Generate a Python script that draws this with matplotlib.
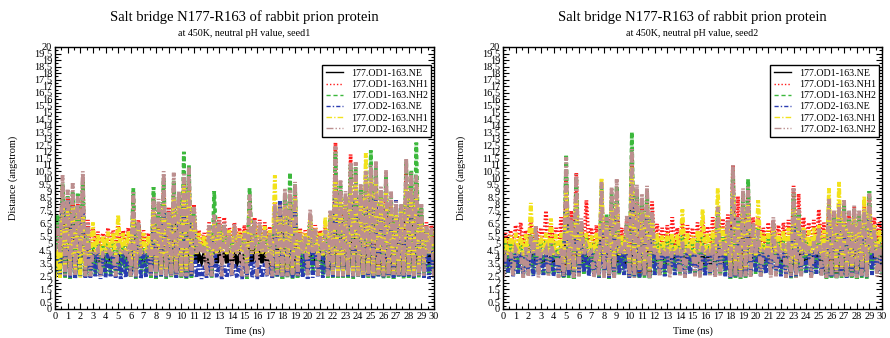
import numpy as np
import matplotlib
matplotlib.use("Agg")
import matplotlib.pyplot as plt
from matplotlib.lines import Line2D
from matplotlib.ticker import MultipleLocator, FuncFormatter

# Distance traces, sampled every 0.2 ns.  Each trace is stored as its troughs
# (t = 0, 0.4, ..., 30 ns) and its peaks (t = 0.2, 0.6, ..., 29.8 ns), in angstrom.

# ---------------- seed1 ----------------
seed1_od1_ne_low = [
    3.5, 3.5, 2.5, 2.6, 2.5, 3.4, 2.6, 3.5, 3.6, 3.5,
    3.6, 3.5, 3.4, 3.5, 3.6, 2.5, 2.6, 3.5, 3.6, 2.5,
    2.6, 2.5, 2.6, 2.5, 2.6, 2.5, 2.6, 2.5, 3.5, 3.6,
    3.5, 2.6, 3.5, 3.6, 3.5, 3.6, 3.5, 3.4, 2.5, 3.5,
    3.6, 3.5, 3.6, 2.5, 2.6, 2.5, 2.6, 2.5, 2.6, 3.5,
    3.6, 3.5, 3.6, 3.5, 2.6, 2.5, 2.6, 2.5, 2.6, 2.5,
    2.6, 2.5, 2.6, 2.5, 2.6, 2.5, 2.6, 2.5, 2.6, 2.5,
    2.6, 2.5, 2.6, 3.5, 3.6, 3.5]
seed1_od1_ne_high = [
    4.0, 7.0, 7.0, 8.3, 6.5, 7.0, 5.0, 4.2, 4.3, 4.1,
    4.2, 4.3, 4.2, 4.1, 4.3, 6.5, 6.5, 4.2, 4.3, 6.6,
    6.0, 7.0, 5.5, 7.0, 6.0, 8.0, 7.0, 5.5, 4.1, 4.2,
    4.3, 5.5, 4.2, 4.3, 4.2, 4.3, 4.1, 4.2, 6.0, 4.8,
    4.4, 4.3, 4.2, 6.0, 6.5, 7.0, 7.0, 7.0, 4.3, 4.2,
    5.5, 4.3, 4.2, 4.4, 5.5, 8.0, 7.0, 6.5, 8.0, 8.0,
    6.5, 7.5, 8.0, 8.0, 6.5, 7.5, 6.5, 6.0, 6.0, 8.0,
    7.5, 8.0, 6.0, 4.3, 4.2]

seed1_od1_nh1_low = [
    4.6, 4.6, 2.8, 2.7, 2.9, 4.5, 2.8, 4.6, 4.8, 4.6,
    4.7, 4.6, 4.8, 4.6, 4.7, 3.0, 2.9, 4.6, 4.8, 3.0,
    2.8, 2.7, 2.9, 2.7, 2.8, 2.7, 2.9, 3.0, 4.6, 4.7,
    4.6, 3.0, 4.6, 4.8, 4.6, 4.7, 4.6, 4.8, 3.0, 4.6,
    4.7, 4.6, 4.8, 3.0, 2.8, 2.7, 2.9, 2.7, 2.8, 4.6,
    4.7, 4.6, 4.8, 4.6, 3.0, 2.7, 2.8, 2.6, 2.8, 2.7,
    2.6, 2.8, 2.7, 2.6, 2.8, 2.7, 2.6, 2.8, 2.7, 2.6,
    2.8, 2.7, 2.9, 4.6, 4.7, 4.6]
seed1_od1_nh1_high = [
    6.2, 9.4, 8.5, 8.8, 8.0, 9.7, 6.8, 6.2, 5.9, 5.8,
    6.2, 6.0, 6.4, 6.0, 6.2, 8.4, 6.8, 6.0, 5.8, 8.5,
    8.0, 9.7, 7.8, 9.6, 8.6, 10.0, 10.2, 8.0, 6.0, 5.8,
    6.6, 7.0, 7.0, 7.0, 6.2, 6.6, 6.2, 6.4, 8.4, 7.0,
    6.8, 6.6, 6.3, 8.2, 8.2, 8.5, 8.4, 9.0, 6.2, 6.0,
    7.2, 6.4, 6.0, 6.4, 7.2, 12.7, 9.0, 8.4, 11.8, 10.4,
    8.8, 10.0, 10.5, 10.5, 8.8, 9.8, 8.4, 7.6, 7.8, 10.8,
    9.8, 10.0, 7.4, 6.6, 6.4]

seed1_od1_nh2_low = [
    2.6, 2.5, 2.4, 2.3, 2.4, 2.5, 2.4, 2.6, 2.7, 2.6,
    2.7, 2.6, 2.7, 2.6, 2.7, 2.4, 2.3, 2.6, 2.7, 2.4,
    2.3, 2.4, 2.3, 2.4, 2.3, 2.4, 2.3, 2.4, 4.5, 4.6,
    4.5, 2.4, 4.6, 4.5, 4.6, 4.5, 4.6, 4.5, 2.3, 4.6,
    4.5, 4.6, 4.5, 2.3, 2.4, 2.3, 2.4, 2.3, 2.4, 2.6,
    2.7, 2.6, 2.7, 2.6, 2.4, 2.3, 2.4, 2.3, 2.4, 2.3,
    2.4, 2.3, 2.4, 2.3, 2.4, 2.3, 2.4, 2.3, 2.4, 2.3,
    2.4, 2.3, 2.4, 2.6, 2.7, 2.6]
seed1_od1_nh2_high = [
    7.2, 9.6, 8.6, 9.0, 8.8, 9.8, 6.0, 5.0, 5.0, 4.8,
    5.0, 5.0, 5.2, 5.0, 5.0, 9.2, 6.2, 5.0, 4.8, 9.3,
    8.0, 10.0, 7.4, 9.8, 8.8, 12.0, 11.0, 7.6, 5.0, 4.8,
    5.6, 9.0, 6.4, 6.4, 5.4, 5.8, 5.4, 5.6, 9.2, 6.4,
    6.0, 5.8, 5.6, 7.6, 7.8, 8.8, 10.4, 9.6, 5.6, 5.4,
    7.2, 5.8, 5.4, 6.0, 7.0, 12.0, 9.4, 8.6, 11.0, 10.8,
    9.2, 10.4, 12.1, 10.8, 9.0, 10.2, 8.6, 7.8, 7.9, 11.3,
    10.6, 12.7, 7.8, 6.0, 5.8]

seed1_od2_ne_low = [
    2.5, 2.4, 2.5, 2.4, 2.3, 2.5, 2.4, 2.4, 2.5, 2.3,
    2.4, 2.5, 2.4, 2.3, 2.4, 2.5, 2.4, 2.3, 2.4, 2.5,
    2.4, 2.5, 2.4, 2.5, 2.4, 2.5, 2.4, 2.5, 2.4, 2.3,
    2.4, 2.5, 2.4, 2.3, 2.4, 2.5, 2.4, 2.3, 2.5, 2.4,
    2.3, 2.4, 2.5, 2.4, 2.5, 2.4, 2.5, 2.4, 2.5, 2.4,
    2.3, 2.4, 2.5, 2.4, 2.5, 2.4, 2.5, 2.4, 2.5, 2.4,
    2.5, 2.4, 2.5, 2.4, 2.5, 2.4, 2.5, 2.4, 2.5, 2.4,
    2.5, 2.4, 2.5, 2.4, 2.3, 2.4]
seed1_od2_ne_high = [
    4.2, 8.2, 8.3, 7.0, 6.5, 7.5, 5.0, 4.3, 4.4, 4.3,
    4.4, 4.3, 4.2, 4.4, 4.3, 6.5, 5.0, 4.4, 4.3, 6.5,
    6.0, 7.5, 5.5, 7.8, 6.5, 8.0, 7.5, 5.8, 3.4, 3.3,
    3.5, 5.5, 3.4, 3.3, 3.5, 3.4, 3.3, 3.5, 6.0, 3.6,
    3.4, 3.5, 3.3, 6.0, 8.3, 7.0, 7.0, 7.5, 4.4, 4.3,
    5.5, 4.5, 4.3, 4.4, 5.8, 9.0, 7.5, 7.0, 8.5, 8.5,
    7.0, 8.0, 8.8, 8.6, 7.0, 8.0, 7.0, 8.3, 6.5, 8.5,
    8.0, 8.5, 6.0, 4.6, 4.4]

seed1_od2_nh1_low = [
    2.4, 2.4, 3.0, 3.2, 2.8, 2.4, 3.0, 4.0, 4.2, 4.1,
    4.3, 4.2, 4.0, 4.2, 4.3, 3.5, 3.0, 4.2, 4.3, 4.0,
    3.0, 2.8, 3.0, 2.8, 3.0, 2.8, 3.0, 3.2, 4.2, 4.3,
    4.1, 3.5, 4.2, 4.3, 4.2, 4.0, 4.2, 4.3, 3.5, 4.2,
    4.1, 4.2, 4.0, 3.5, 3.0, 2.8, 3.0, 2.8, 3.2, 4.2,
    4.0, 4.3, 4.2, 4.1, 3.5, 2.8, 2.7, 2.8, 2.6, 2.8,
    2.7, 2.6, 2.8, 2.7, 2.6, 2.8, 2.7, 2.8, 2.6, 2.8,
    2.7, 2.6, 2.8, 3.5, 4.2, 4.0]
seed1_od2_nh1_high = [
    4.6, 8.0, 7.5, 8.0, 7.6, 7.0, 6.2, 6.6, 5.7, 5.6,
    5.9, 5.8, 7.2, 5.8, 5.9, 7.0, 6.4, 5.8, 5.6, 7.5,
    7.0, 8.0, 7.2, 8.5, 8.0, 9.5, 9.0, 7.0, 5.8, 5.6,
    6.2, 6.6, 6.4, 6.2, 6.0, 6.2, 5.9, 6.0, 7.5, 6.4,
    6.4, 6.3, 6.0, 10.2, 7.0, 8.0, 8.0, 8.5, 6.0, 5.8,
    7.0, 6.2, 5.8, 7.0, 7.2, 10.0, 8.5, 8.0, 9.5, 10.0,
    8.5, 11.9, 10.0, 10.0, 8.5, 9.0, 8.0, 7.5, 7.5, 9.5,
    9.0, 9.5, 7.0, 6.3, 6.0]

seed1_od2_nh2_low = [
    4.4, 4.3, 2.5, 2.5, 2.6, 4.2, 2.5, 2.5, 4.3, 2.5,
    4.3, 4.2, 2.5, 4.3, 4.2, 2.5, 2.5, 4.2, 4.3, 2.5,
    2.5, 2.6, 2.5, 2.5, 2.6, 2.5, 2.5, 2.6, 4.2, 4.3,
    2.5, 2.5, 4.2, 2.5, 4.3, 2.5, 4.2, 2.5, 2.5, 4.2,
    2.5, 4.3, 2.5, 2.5, 2.6, 2.5, 2.5, 2.6, 2.5, 4.2,
    2.5, 4.3, 2.5, 4.2, 2.5, 2.6, 2.5, 2.5, 2.6, 2.5,
    2.5, 2.6, 2.5, 2.5, 2.6, 2.5, 2.5, 2.6, 2.5, 2.5,
    2.6, 2.5, 2.5, 2.5, 4.2, 2.5]
seed1_od2_nh2_high = [
    6.5, 10.2, 9.1, 9.6, 8.6, 10.5, 6.6, 4.4, 4.6, 4.3,
    4.7, 4.4, 5.0, 4.5, 4.6, 9.0, 6.6, 4.3, 4.6, 8.6,
    8.4, 10.5, 7.6, 10.4, 9.0, 10.4, 10.8, 7.8, 5.2, 4.8,
    6.4, 7.2, 6.8, 6.6, 5.8, 6.5, 5.6, 5.8, 8.8, 6.8,
    6.6, 6.0, 5.8, 8.0, 8.0, 9.2, 9.1, 9.7, 5.8, 5.6,
    7.6, 6.2, 5.6, 6.0, 7.5, 12.4, 9.8, 9.0, 11.2, 11.2,
    9.5, 10.5, 11.0, 11.3, 9.4, 10.6, 9.0, 8.2, 8.0, 11.5,
    10.4, 10.2, 8.0, 6.4, 6.2]

# ---------------- seed2 ----------------
seed2_od1_ne_low = [
    3.5, 3.4, 3.5, 3.6, 3.5, 3.4, 3.5, 3.6, 3.5, 3.4,
    3.5, 3.6, 2.5, 2.6, 2.5, 3.0, 3.5, 3.6, 3.5, 2.6,
    3.4, 2.5, 2.6, 3.5, 3.6, 2.5, 2.6, 2.5, 2.6, 2.5,
    3.5, 3.6, 3.4, 3.5, 3.6, 3.5, 3.4, 3.5, 3.6, 3.5,
    3.4, 3.5, 3.6, 3.5, 3.4, 2.5, 2.6, 2.5, 2.6, 3.5,
    3.6, 3.5, 3.4, 3.5, 3.6, 3.5, 3.4, 2.5, 2.6, 3.5,
    3.6, 3.5, 3.4, 3.5, 2.5, 2.6, 2.5, 2.6, 2.5, 2.6,
    2.5, 2.6, 2.5, 3.5, 3.6, 3.5]
seed2_od1_ne_high = [
    4.0, 4.1, 4.0, 3.9, 4.1, 4.2, 4.6, 4.0, 4.1, 4.0,
    4.1, 4.2, 8.0, 5.0, 7.0, 4.8, 4.2, 4.0, 4.1, 6.5,
    5.0, 6.5, 6.8, 4.0, 4.8, 8.5, 6.5, 6.0, 6.5, 5.5,
    4.1, 4.0, 4.2, 4.1, 4.0, 4.2, 4.1, 4.0, 4.2, 4.1,
    4.0, 4.2, 5.5, 4.1, 4.6, 7.5, 5.0, 6.4, 6.5, 4.6,
    4.4, 4.0, 4.2, 4.8, 4.1, 4.0, 4.2, 6.4, 5.5, 4.4,
    4.1, 4.2, 4.4, 4.0, 6.0, 5.2, 5.5, 5.6, 5.2, 5.4,
    5.0, 5.2, 6.0, 4.4, 4.1]

seed2_od1_nh1_low = [
    4.7, 4.8, 4.6, 4.7, 4.8, 4.6, 4.7, 4.8, 4.6, 4.7,
    4.8, 4.6, 2.8, 2.9, 2.8, 3.2, 4.7, 4.8, 4.6, 2.9,
    4.6, 2.8, 2.9, 4.7, 4.6, 2.8, 2.9, 2.8, 2.9, 2.8,
    4.7, 4.8, 4.6, 4.7, 4.8, 4.6, 4.7, 4.8, 4.6, 4.7,
    4.8, 4.6, 4.7, 4.8, 4.6, 2.8, 2.9, 2.8, 2.9, 4.6,
    4.7, 4.8, 4.6, 4.7, 4.8, 4.6, 4.7, 2.8, 2.9, 4.6,
    4.7, 4.8, 4.6, 4.7, 2.8, 2.9, 2.8, 2.9, 2.8, 2.9,
    2.8, 2.9, 2.8, 4.7, 4.6, 4.7]
seed2_od1_nh1_high = [
    5.8, 6.0, 6.4, 6.6, 6.0, 6.9, 6.2, 6.2, 7.5, 6.4,
    6.2, 7.0, 10.0, 7.5, 10.4, 6.5, 8.3, 6.2, 6.4, 8.5,
    6.8, 8.6, 9.0, 6.2, 6.8, 11.5, 8.8, 8.4, 8.8, 8.2,
    6.5, 6.2, 6.4, 7.0, 6.2, 6.6, 6.4, 6.2, 6.6, 6.8,
    6.3, 7.0, 7.5, 6.9, 7.2, 11.0, 8.6, 8.6, 9.0, 7.0,
    7.0, 6.2, 6.6, 6.8, 6.4, 6.6, 6.8, 9.4, 8.8, 7.0,
    6.6, 6.8, 7.6, 6.6, 8.0, 7.5, 8.0, 8.0, 7.4, 7.8,
    7.2, 8.0, 8.4, 7.0, 6.6]

seed2_od1_nh2_low = [
    2.6, 2.7, 2.6, 2.7, 2.6, 2.7, 2.6, 2.7, 2.6, 2.7,
    2.6, 2.7, 2.3, 2.4, 2.3, 2.5, 2.6, 2.7, 2.6, 2.4,
    2.6, 2.3, 2.4, 2.6, 2.7, 2.3, 2.4, 2.3, 2.4, 2.3,
    2.6, 2.7, 2.6, 2.7, 2.6, 2.7, 2.6, 2.7, 2.6, 2.7,
    2.6, 2.7, 2.6, 2.7, 2.6, 2.3, 2.4, 2.3, 2.4, 2.6,
    2.7, 2.6, 2.7, 2.6, 2.7, 2.6, 2.7, 2.3, 2.4, 2.6,
    2.7, 2.6, 2.7, 2.6, 2.3, 2.4, 2.3, 2.4, 2.3, 2.4,
    2.3, 2.4, 2.3, 2.6, 2.7, 2.6]
seed2_od1_nh2_high = [
    5.0, 5.2, 5.0, 5.2, 5.0, 6.0, 5.6, 5.0, 5.2, 5.4,
    5.0, 5.2, 11.8, 6.8, 10.0, 6.2, 5.4, 5.0, 5.2, 9.4,
    7.2, 8.8, 9.4, 5.2, 6.6, 13.5, 9.2, 8.4, 9.0, 7.2,
    5.2, 5.0, 5.2, 5.4, 5.0, 5.6, 5.2, 5.0, 5.4, 5.6,
    5.0, 5.4, 7.6, 5.6, 6.6, 10.6, 6.8, 8.8, 9.9, 6.4,
    6.2, 5.0, 5.4, 6.6, 5.2, 5.4, 5.6, 8.8, 7.4, 5.8,
    5.4, 5.6, 6.0, 5.4, 8.0, 7.0, 7.8, 8.0, 7.0, 7.6,
    7.2, 7.4, 9.0, 6.0, 5.4]

seed2_od2_ne_low = [
    2.6, 2.8, 2.5, 2.7, 2.6, 2.8, 2.5, 2.7, 2.6, 2.8,
    2.5, 2.7, 2.4, 2.5, 2.4, 2.6, 2.8, 2.5, 2.7, 2.4,
    2.6, 2.4, 2.5, 2.7, 2.6, 2.4, 2.5, 2.4, 2.5, 2.4,
    2.6, 2.8, 2.5, 2.7, 2.6, 2.8, 2.5, 2.7, 2.6, 2.8,
    2.5, 2.7, 2.6, 2.8, 2.5, 2.4, 2.5, 2.4, 2.5, 2.6,
    2.8, 2.5, 2.7, 2.6, 2.8, 2.5, 2.7, 2.4, 2.5, 2.6,
    2.8, 2.5, 2.7, 2.6, 2.4, 2.5, 2.4, 2.5, 2.4, 2.5,
    2.4, 2.5, 2.4, 2.6, 2.8, 2.5]
seed2_od2_ne_high = [
    4.3, 4.4, 4.2, 4.3, 4.4, 4.6, 4.4, 4.3, 4.2, 4.4,
    4.3, 4.4, 8.5, 5.5, 7.5, 5.0, 4.4, 4.3, 4.2, 6.5,
    5.0, 6.8, 7.0, 4.3, 5.0, 9.0, 7.0, 6.5, 7.0, 5.8,
    4.4, 4.3, 4.2, 4.4, 4.3, 4.6, 4.4, 4.3, 4.4, 4.5,
    4.3, 4.4, 5.8, 4.4, 5.0, 8.0, 5.5, 7.0, 7.0, 5.0,
    4.6, 4.3, 4.4, 5.0, 4.3, 4.4, 4.5, 7.0, 6.0, 4.6,
    4.4, 4.5, 4.6, 4.3, 6.5, 5.5, 6.0, 6.2, 5.5, 6.0,
    5.6, 5.8, 6.8, 4.6, 4.4]

seed2_od2_nh1_low = [
    4.2, 4.1, 4.3, 4.2, 4.1, 4.2, 4.3, 4.1, 4.2, 4.3,
    4.1, 4.2, 3.0, 3.2, 3.0, 3.6, 4.2, 4.1, 4.3, 3.2,
    4.2, 3.0, 3.2, 4.1, 4.2, 3.0, 3.2, 3.0, 3.2, 3.0,
    4.2, 4.1, 4.3, 4.2, 4.1, 4.2, 4.3, 4.1, 4.2, 4.3,
    4.1, 4.2, 4.3, 4.2, 4.1, 3.0, 3.2, 3.0, 3.2, 4.2,
    4.1, 4.3, 4.2, 4.1, 4.2, 4.3, 4.1, 3.0, 3.2, 4.2,
    4.1, 4.3, 4.2, 4.1, 3.0, 3.2, 3.0, 3.2, 3.0, 3.2,
    3.0, 3.2, 3.0, 4.2, 4.1, 4.3]
seed2_od2_nh1_high = [
    5.4, 5.6, 5.8, 5.6, 5.7, 8.1, 5.8, 5.6, 5.8, 6.9,
    5.7, 5.8, 9.0, 6.0, 8.5, 6.0, 5.8, 5.6, 5.8, 10.0,
    6.4, 7.5, 8.0, 5.6, 6.2, 11.0, 8.0, 7.4, 8.0, 6.8,
    5.8, 5.6, 5.8, 5.8, 5.7, 7.6, 5.8, 5.6, 6.0, 7.6,
    5.8, 6.0, 9.2, 6.2, 6.4, 9.0, 6.6, 7.8, 8.0, 6.2,
    8.3, 5.8, 6.0, 6.2, 5.8, 6.0, 6.2, 7.8, 7.0, 6.2,
    6.0, 6.2, 6.4, 6.0, 9.2, 6.6, 9.7, 7.2, 6.6, 7.0,
    6.6, 8.6, 7.6, 6.4, 6.0]

seed2_od2_nh2_low = [
    2.4, 4.2, 2.5, 4.2, 2.4, 2.5, 4.2, 2.4, 4.2, 2.5,
    4.2, 2.4, 2.5, 3.0, 2.4, 2.5, 4.2, 4.2, 2.4, 2.5,
    2.4, 2.5, 2.4, 4.2, 4.2, 2.5, 2.4, 3.0, 2.5, 2.4,
    4.2, 2.5, 4.2, 2.4, 4.2, 2.5, 2.4, 4.2, 2.5, 2.4,
    4.2, 2.5, 2.4, 2.5, 4.2, 2.4, 2.5, 2.4, 2.5, 2.4,
    4.2, 2.5, 4.2, 2.4, 2.5, 4.2, 2.4, 2.5, 2.4, 2.5,
    4.2, 2.4, 4.2, 2.5, 2.4, 2.5, 2.4, 2.5, 2.4, 2.5,
    2.4, 2.5, 2.4, 4.2, 2.5, 2.4]
seed2_od2_nh2_high = [
    4.3, 4.4, 4.6, 4.2, 4.7, 5.6, 6.4, 4.4, 4.6, 5.0,
    4.3, 4.6, 11.6, 7.0, 10.3, 6.9, 4.8, 4.4, 4.6, 9.7,
    7.0, 9.3, 9.9, 4.6, 7.1, 12.2, 9.5, 8.8, 9.4, 7.6,
    4.6, 4.4, 4.8, 4.6, 4.4, 5.2, 4.6, 4.4, 5.0, 4.8,
    4.4, 5.0, 7.8, 5.2, 6.8, 11.0, 7.0, 9.2, 9.4, 6.6,
    6.0, 4.4, 5.0, 7.0, 4.6, 5.0, 5.2, 9.2, 7.6, 6.0,
    4.8, 5.2, 6.2, 5.0, 8.4, 7.5, 8.0, 8.3, 7.5, 7.9,
    7.5, 7.6, 8.8, 6.2, 5.0]

series_labels = ["177.OD1-163.NE", "177.OD1-163.NH1", "177.OD1-163.NH2",
                 "177.OD2-163.NE", "177.OD2-163.NH1", "177.OD2-163.NH2"]
series_colors = ["#000000", "#ff1a1a", "#3cb83c", "#2a3cb0", "#f2e21c", "#bc8f8f"]
series_styles = ["-", (0, (1, 1.5)), (0, (3, 2)), (0, (3, 1.5, 1, 1.5)),
                 (0, (4, 1.5, 1, 1.5)), (0, (5, 1.5, 1, 1.5, 1, 1.5))]

seed_names = ["seed1", "seed2"]
seed1_lows = [seed1_od1_ne_low, seed1_od1_nh1_low, seed1_od1_nh2_low,
              seed1_od2_ne_low, seed1_od2_nh1_low, seed1_od2_nh2_low]
seed1_highs = [seed1_od1_ne_high, seed1_od1_nh1_high, seed1_od1_nh2_high,
               seed1_od2_ne_high, seed1_od2_nh1_high, seed1_od2_nh2_high]
seed2_lows = [seed2_od1_ne_low, seed2_od1_nh1_low, seed2_od1_nh2_low,
              seed2_od2_ne_low, seed2_od2_nh1_low, seed2_od2_nh2_low]
seed2_highs = [seed2_od1_ne_high, seed2_od1_nh1_high, seed2_od1_nh2_high,
               seed2_od2_ne_high, seed2_od2_nh1_high, seed2_od2_nh2_high]

time_ns = np.linspace(0.0, 30.0, 151)


def trace(low, high):
    """Merge trough and peak samples back into time order."""
    y = np.empty(len(low) + len(high))
    y[0::2] = low
    y[1::2] = high
    return y


plt.rcParams["font.family"] = ["Liberation Serif", "DejaVu Serif"]
plt.rcParams["lines.scale_dashes"] = False

W, H = 890, 338
fig = plt.figure(figsize=(W / 100, H / 100), dpi=100)

panel_left_px = [55, 503]
ax_w_px, ax_top_px, ax_bot_px = 379, 47, 309

for left_px, seed, lows, highs in zip(panel_left_px, seed_names,
                                      [seed1_lows, seed2_lows],
                                      [seed1_highs, seed2_highs]):
    ax = fig.add_axes([left_px / W, 1 - ax_bot_px / H, ax_w_px / W,
                       (ax_bot_px - ax_top_px) / H])
    for low, high, col, ls in zip(lows, highs, series_colors, series_styles):
        ax.plot(time_ns, trace(low, high), color=col, linestyle=ls,
                linewidth=2.7, dash_capstyle="butt", solid_joinstyle="miter",
                dash_joinstyle="miter")

    ax.set_xlim(0, 30)
    ax.set_ylim(0, 20)
    ax.xaxis.set_major_locator(MultipleLocator(1))
    ax.xaxis.set_minor_locator(MultipleLocator(0.5))
    ax.yaxis.set_major_locator(MultipleLocator(0.5))
    ax.yaxis.set_minor_locator(MultipleLocator(0.25))
    ax.yaxis.set_major_formatter(FuncFormatter(lambda v, p: f"{v:g}"))
    ax.tick_params(which="both", direction="in", top=True, right=True,
                   labelsize=7.5, pad=2, width=0.8)
    ax.tick_params(which="major", length=4)
    ax.tick_params(which="minor", length=2.5)
    for sp in ax.spines.values():
        sp.set_linewidth(1.0)

    ax.set_xlabel("Time (ns)", fontsize=7.5)
    ax.set_ylabel("Distance (angstrom)", fontsize=7.5)
    ax.xaxis.set_label_coords(0.5, -0.066)
    ax.yaxis.set_label_coords(-0.097, 0.5)

    cx = (left_px + ax_w_px / 2) / W
    fig.text(cx, 1 - 17 / H, "Salt bridge N177-R163 of rabbit prion protein",
             ha="center", va="center", fontsize=10.5)
    fig.text(cx, 1 - 34 / H, f"at 450K, neutral pH value, {seed}",
             ha="center", va="center", fontsize=7.2)

    handles = [Line2D([], [], color=c, linestyle=s, linewidth=1.0)
               for c, s in zip(series_colors, series_styles)]
    leg = ax.legend(handles, series_labels, loc="upper right",
                    bbox_to_anchor=(0.993, 0.93),
                    borderaxespad=0, fontsize=7.2, handlelength=1.7,
                    handletextpad=0.8, labelspacing=0.22, borderpad=0.35,
                    fancybox=False, framealpha=1, edgecolor="black")
    leg.get_frame().set_linewidth(1.0)

fig.savefig("out.png", dpi=100)
